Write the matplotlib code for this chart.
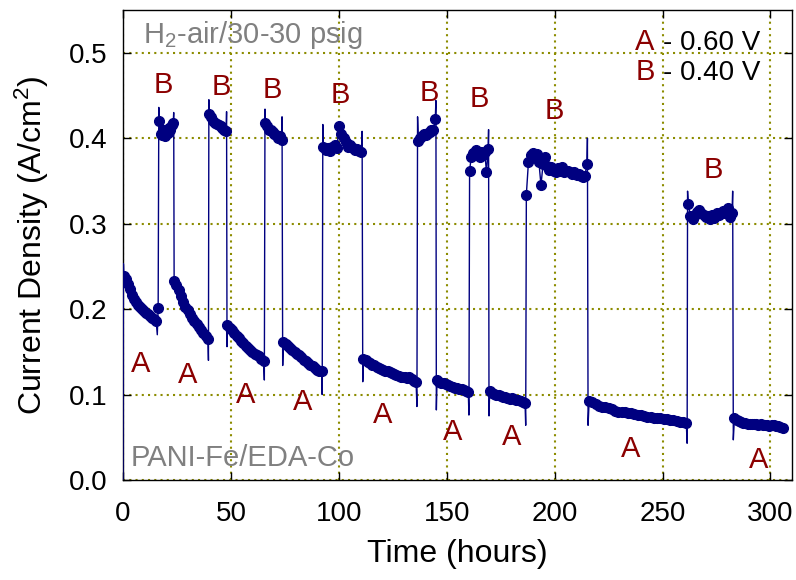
import matplotlib
matplotlib.use("Agg")
import matplotlib.pyplot as plt
import numpy as np

plt.rcParams['font.family'] = ['Liberation Sans', 'DejaVu Sans']
plt.rcParams['mathtext.fontset'] = 'custom'
plt.rcParams['mathtext.rm'] = 'Liberation Sans'
plt.rcParams['mathtext.it'] = 'Liberation Sans:italic'

# hold segments: A = 0.60 V, B = 0.40 V  (time span in hours, current density in A/cm2)
a1_span = (0.4, 16.3)
a1 = [0.239, 0.235, 0.229, 0.223, 0.217, 0.212, 0.208, 0.205, 0.202, 0.200, 0.198, 0.196,
      0.194, 0.192, 0.190, 0.188, 0.186, 0.201]
b1_span = (16.8, 23.3)
b1 = [0.420, 0.405, 0.404, 0.410, 0.403, 0.408, 0.406, 0.412, 0.410, 0.415, 0.418]
a2_span = (23.7, 39.4)
a2 = [0.233, 0.228, 0.222, 0.215, 0.208, 0.203, 0.199, 0.194, 0.190, 0.186, 0.182, 0.179,
      0.176, 0.172, 0.168, 0.165]
b2_span = (40.0, 47.8)
b2 = [0.428, 0.425, 0.420, 0.418, 0.417, 0.415, 0.414, 0.412, 0.410, 0.408]
a3_span = (48.4, 65.2)
a3 = [0.181, 0.178, 0.175, 0.172, 0.169, 0.166, 0.163, 0.160, 0.157, 0.155, 0.152, 0.150,
      0.148, 0.146, 0.145, 0.142, 0.139]
b3_span = (66.0, 73.5)
b3 = [0.418, 0.414, 0.410, 0.410, 0.407, 0.405, 0.404, 0.400, 0.402, 0.398]
a4_span = (74.3, 92.0)
a4 = [0.162, 0.159, 0.157, 0.154, 0.152, 0.150, 0.148, 0.146, 0.144, 0.141, 0.139, 0.137,
      0.135, 0.133, 0.131, 0.129, 0.128, 0.127]
b4_span = (92.9, 110.5)
b4 = [0.390, 0.386, 0.388, 0.385, 0.390, 0.392, 0.388, 0.414, 0.405, 0.400, 0.395, 0.390,
      0.392, 0.388, 0.386, 0.387, 0.385, 0.384]
a5_span = (111.4, 135.8)
a5 = [0.142, 0.140, 0.138, 0.137, 0.135, 0.134, 0.132, 0.131, 0.130, 0.129, 0.128, 0.127,
      0.126, 0.125, 0.124, 0.123, 0.122, 0.121, 0.120, 0.120, 0.119, 0.120, 0.118, 0.116, 0.115]
b5_span = (136.8, 144.7)
b5 = [0.397, 0.400, 0.403, 0.405, 0.404, 0.406, 0.407, 0.410, 0.409, 0.422]
a6_span = (145.5, 160.0)
a6 = [0.117, 0.115, 0.114, 0.113, 0.112, 0.111, 0.110, 0.109, 0.108, 0.108, 0.107, 0.106,
      0.105, 0.104, 0.103]
b6_span = (160.6, 169.2)
b6 = [0.362, 0.378, 0.383, 0.380, 0.386, 0.382, 0.378, 0.384, 0.380, 0.384, 0.360, 0.387]
a7_span = (169.9, 186.3)
a7 = [0.104, 0.102, 0.101, 0.100, 0.099, 0.098, 0.097, 0.097, 0.096, 0.095, 0.096, 0.095,
      0.094, 0.094, 0.093, 0.091, 0.090]
b7_span = (186.9, 215.0)
b7 = [0.334, 0.372, 0.380, 0.383, 0.378, 0.382, 0.372, 0.345, 0.370, 0.378, 0.368, 0.363,
      0.366, 0.362, 0.360, 0.365, 0.362, 0.366, 0.360, 0.362, 0.362, 0.360, 0.358, 0.360,
      0.357, 0.358, 0.356, 0.355, 0.356, 0.370]
a8_span = (216.0, 261.0)
a8 = [0.093, 0.091, 0.089, 0.087, 0.086, 0.085, 0.084, 0.083, 0.081, 0.080, 0.080, 0.079,
      0.078, 0.078, 0.077, 0.076, 0.076, 0.075, 0.074, 0.074, 0.073, 0.072, 0.072, 0.071,
      0.071, 0.070, 0.070, 0.069, 0.068, 0.068, 0.067]
b8_span = (261.9, 282.2)
b8 = [0.323, 0.309, 0.305, 0.310, 0.314, 0.316, 0.312, 0.310, 0.308, 0.309, 0.305, 0.310,
      0.307, 0.312, 0.310, 0.313, 0.315, 0.312, 0.318, 0.308, 0.312]
a9_span = (283.3, 305.6)
a9 = [0.072, 0.070, 0.069, 0.068, 0.067, 0.067, 0.066, 0.066, 0.065, 0.065, 0.065, 0.064,
      0.065, 0.064, 0.064, 0.064, 0.063, 0.064, 0.064, 0.063, 0.063, 0.062, 0.061]

# transient readings logged right at each potential step (no marker)
jump_t = [0.0, 0.2, 15.9, 16.6, 23.5, 39.6, 39.8, 48.0, 48.2, 65.5, 65.8, 73.7, 74.0,
          92.3, 92.6, 110.8, 111.1, 136.2, 136.5, 145.0, 145.2, 160.3, 169.4, 169.6,
          186.6, 215.2, 215.5, 261.4, 261.6, 282.5, 282.8]
jump_v = [0.0, 0.253, 0.170, 0.436, 0.430, 0.140, 0.445, 0.431, 0.156, 0.117, 0.434, 0.425,
          0.134, 0.100, 0.416, 0.408, 0.115, 0.086, 0.425, 0.444, 0.082, 0.076, 0.410, 0.075,
          0.064, 0.400, 0.064, 0.043, 0.338, 0.338, 0.047]

# step labels: (time, current density) of the text baseline
a_label_t = [8.3, 30.1, 56.9, 83.3, 120.4, 152.8, 180.1, 235.2, 294.4]
a_label_v = [0.126, 0.113, 0.090, 0.082, 0.067, 0.047, 0.041, 0.027, 0.014]
b_label_t = [18.8, 45.6, 69.4, 100.5, 142.1, 165.3, 200.0, 273.3]
b_label_v = [0.453, 0.450, 0.447, 0.441, 0.444, 0.436, 0.423, 0.353]

segments = [(a1_span, a1), (b1_span, b1), (a2_span, a2), (b2_span, b2), (a3_span, a3),
            (b3_span, b3), (a4_span, a4), (b4_span, b4), (a5_span, a5), (b5_span, b5),
            (a6_span, a6), (b6_span, b6), (a7_span, a7), (b7_span, b7), (a8_span, a8),
            (b8_span, b8), (a9_span, a9)]

mark_t, mark_v = [], []
for (t0, t1), vals in segments:
    mark_t.extend(np.linspace(t0, t1, len(vals)))
    mark_v.extend(vals)
mark_t = np.array(mark_t)
mark_v = np.array(mark_v)

line_t = np.concatenate([mark_t, jump_t])
line_v = np.concatenate([mark_v, jump_v])
order = np.argsort(line_t, kind='stable')
line_t = line_t[order]
line_v = line_v[order]

navy = '#000080'
dark_red = '#8b0000'
grid_col = '#8c8c00'

fig = plt.figure(figsize=(7.96, 5.8), dpi=100)
ax = fig.add_axes([0.1545, 0.1724, 0.8405, 0.8104])

ax.plot(line_t, line_v, color=navy, lw=1.0, zorder=3)
ax.plot(mark_t, mark_v, 'o', ms=7, color=navy, mec=navy, zorder=4)

ax.set_xlim(0, 310)
ax.set_ylim(0, 0.55)
ax.set_xticks([0, 50, 100, 150, 200, 250, 300])
ax.set_yticks([0.0, 0.1, 0.2, 0.3, 0.4, 0.5])
ax.set_yticklabels(['0.0', '0.1', '0.2', '0.3', '0.4', '0.5'])
ax.tick_params(direction='in', top=True, right=True, length=6, width=1, labelsize=20)
ax.tick_params(axis='x', pad=15)
ax.tick_params(axis='y', pad=11)
ax.grid(True, color=grid_col, linestyle=(0, (1, 2)), lw=1.5, zorder=1)
for s in ax.spines.values():
    s.set_linewidth(1.0)

ax.set_xlabel('Time (hours)', fontsize=23, labelpad=9)
ax.set_ylabel('Current Density (A/cm$^2$)', fontsize=23, labelpad=13)

for t, v in zip(a_label_t, a_label_v):
    ax.text(t, v, 'A', color=dark_red, fontsize=21, ha='center', va='baseline', zorder=5)
for t, v in zip(b_label_t, b_label_v):
    ax.text(t, v, 'B', color=dark_red, fontsize=21, ha='center', va='baseline', zorder=5)

# key for the two hold potentials
ax.text(246.3, 0.503, 'A', color=dark_red, fontsize=21, ha='right', va='baseline')
ax.text(250.0, 0.503, '- 0.60 V', color='black', fontsize=20, ha='left', va='baseline')
ax.text(246.3, 0.468, 'B', color=dark_red, fontsize=21, ha='right', va='baseline')
ax.text(250.0, 0.468, '- 0.40 V', color='black', fontsize=20, ha='left', va='baseline')

ax.text(9.3, 0.511, 'H$_2$-air/30-30 psig', color='#808080', fontsize=21,
        ha='left', va='baseline')
ax.text(3.7, 0.016, 'PANI-Fe/EDA-Co', color='#808080', fontsize=21,
        ha='left', va='baseline')

fig.savefig('out.png', dpi=100)
